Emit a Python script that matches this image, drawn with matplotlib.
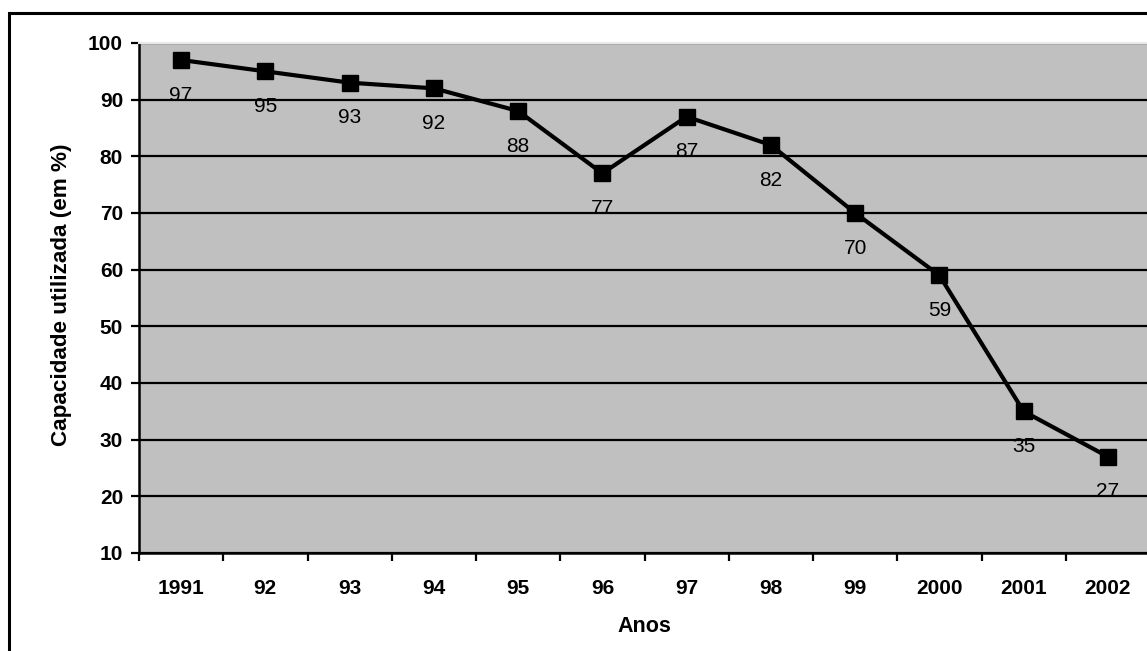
import matplotlib.pyplot as plt
import matplotlib.patches as patches
import numpy as np

# capacity used per year (%)
anos = ['1991', '92', '93', '94', '95', '96', '97', '98', '99', '2000', '2001', '2002']
capacidade = [97, 95, 93, 92, 88, 77, 87, 82, 70, 59, 35, 27]
yticks = [10, 20, 30, 40, 50, 60, 70, 80, 90, 100]

plt.rcParams['font.family'] = ['Liberation Sans', 'DejaVu Sans']
FS = 15

W, H = 1147, 651
fig = plt.figure(figsize=(W / 100, H / 100), dpi=100)
ax = fig.add_axes([139 / W, (H - 553) / H, (1150 - 139) / W, (553 - 43) / H])
ax.set_facecolor('#c0c0c0')

x = np.arange(len(anos))
ax.plot(x, capacidade, color='black', lw=3, marker='s', ms=12, zorder=3)
for xi, v in zip(x, capacidade):
    ax.annotate(str(v), (xi, v), xytext=(0, -18.5), textcoords='offset points',
                ha='center', va='top', fontsize=FS, zorder=4)

ax.set_xlim(-0.5, len(anos) - 0.5)
ax.set_ylim(10, 100)
ax.set_yticks(yticks)
ax.yaxis.grid(True, color='black', lw=1.6)
ax.set_axisbelow(True)

ax.set_xticks(x)
ax.set_xticklabels(anos, fontsize=FS, fontweight='bold')
ax.set_xticks(np.arange(len(anos) + 1) - 0.5, minor=True)
ax.tick_params(axis='x', which='major', length=0, pad=19)
ax.tick_params(axis='x', which='minor', length=6, width=1.6, direction='out')
ax.tick_params(axis='y', length=6, width=1.6, pad=5.5, labelsize=FS)
for lab in ax.get_yticklabels():
    lab.set_fontweight('bold')

for s in ['left', 'bottom']:
    ax.spines[s].set_linewidth(1.8)
ax.spines['top'].set_color('#e8e8e8')
ax.spines['top'].set_linewidth(1.5)
ax.spines['right'].set_visible(False)

fig.text(62 / W, 1 - 295 / H, 'Capacidade utilizada (em %)', rotation=90,
         ha='center', va='center', fontsize=16.2, fontweight='bold')
fig.text(644 / W, 1 - 627 / H, 'Anos', ha='center', va='center',
         fontsize=15.5, fontweight='bold')

# outer chart frame
fig.patches.append(patches.Rectangle((9 / W, -0.1), 2, (H - 13) / H + 0.1,
                                     transform=fig.transFigure, fill=False,
                                     edgecolor='black', lw=2.2))

fig.savefig('out.png', dpi=100)
